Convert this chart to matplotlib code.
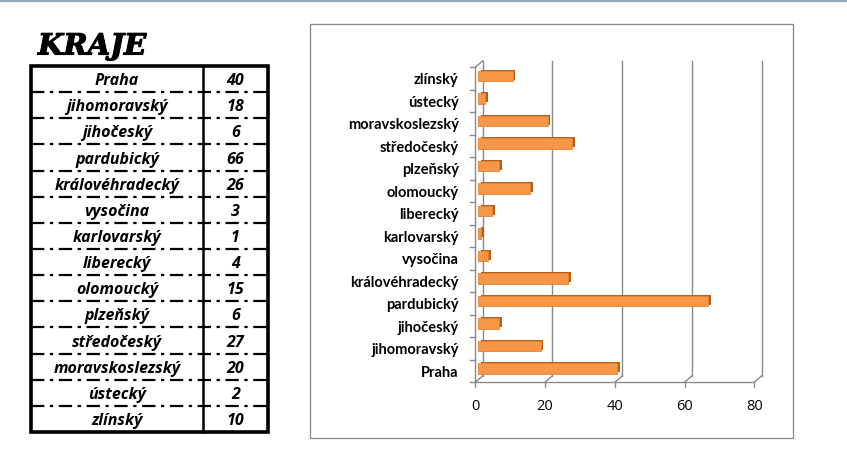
import matplotlib
matplotlib.use("Agg")
import matplotlib.pyplot as plt
import matplotlib.transforms as mtransforms
import matplotlib.patheffects as pe

# ---- data ----
categories = ["Praha", "jihomoravský", "jihočeský", "pardubický", "královéhradecký",
              "vysočina", "karlovarský", "liberecký", "olomoucký", "plzeňský",
              "středočeský", "moravskoslezský", "ústecký", "zlínský"]
values = [40, 18, 6, 66, 26, 3, 1, 4, 15, 6, 27, 20, 2, 10]
x_ticks = [0, 20, 40, 60, 80]
title_text = "KRAJE"

W, H = 847, 451
DPI = 100
fig = plt.figure(figsize=(W / DPI, H / DPI), dpi=DPI)
fig.patch.set_facecolor("white")

# overlay axes in pixel coordinates for table, frames
ov = fig.add_axes([0, 0, 1, 1])
ov.set_xlim(0, W)
ov.set_ylim(H, 0)
ov.axis("off")

# top border line
ov.plot([0, W], [0.8, 0.8], color="#9aaabf", lw=1.6)

# ---- table ----
tx0, tx1, tdiv = 31, 268, 203
ty0, ty1 = 66, 432
n = len(categories)
rh = (ty1 - ty0) / n
for i in range(1, n):
    y = ty0 + i * rh
    ov.plot([tx0, tx1], [y, y], color="black", lw=1.6, ls=(0, (6, 2.5, 1.5, 2.5)))
ov.plot([tdiv, tdiv], [ty0, ty1], color="black", lw=1.8)
ov.add_patch(plt.Rectangle((tx0, ty0), tx1 - tx0, ty1 - ty0, fill=False,
                           ec="black", lw=2.6))
for i, (c, v) in enumerate(zip(categories, values)):
    yc = ty0 + (i + 0.58) * rh
    ov.text((tx0 + tdiv) / 2, yc, c, ha="center", va="center", fontsize=11.5,
            fontweight="bold", style="italic", family="Open Sans")
    ov.text((tdiv + tx1) / 2, yc, str(v), ha="center", va="center", fontsize=11.5,
            fontweight="bold", style="italic", family="Open Sans")

# title
ov.text(38, 46, title_text, ha="left", va="center", fontsize=21,
        fontweight="bold", style="italic", family="DejaVu Serif",
        path_effects=[pe.withStroke(linewidth=0.8, foreground="black")])

# chart frame
ov.add_patch(plt.Rectangle((310, 24), 793 - 310, 438 - 24, fill=False,
                           ec="#8c8c8c", lw=1.0))

# ---- chart ----
x0px, x80px = 475.3, 754.3
ybot, ytop = 382.3, 382.3 - 14 * 22.5
ax = fig.add_axes([x0px / W, (H - ybot) / H, (x80px - x0px) / W, (ybot - ytop) / H])
ax.set_xlim(0, 80)
ax.set_ylim(-0.5, n - 0.5)
ax.patch.set_alpha(0)
for s in ax.spines.values():
    s.set_visible(False)

dx, dy = 7.4, 6.5  # depth offset in px
back = ax.transData + mtransforms.ScaledTranslation(dx / DPI, dy / DPI, fig.dpi_scale_trans)
mid = ax.transData + mtransforms.ScaledTranslation(2.5 / DPI, 2.5 / DPI, fig.dpi_scale_trans)

grid_c = "#8a8a8a"
top_y = n - 0.5
# back-wall gridlines + floor diagonals
for xv in x_ticks:
    ax.plot([xv, xv], [-0.5, top_y], color=grid_c, lw=1.0, transform=back, clip_on=False)
    p0 = ax.transData.transform((xv, -0.5))
    p1 = back.transform((xv, -0.5))
    ov.plot([p0[0], p1[0]], [H - p0[1], H - p1[1]], color=grid_c, lw=1.0)
# left wall front vertical + top diagonal
ax.plot([0, 0], [-0.5, top_y], color=grid_c, lw=1.0, clip_on=False)
p0 = ax.transData.transform((0, top_y))
p1 = back.transform((0, top_y))
ov.plot([p0[0], p1[0]], [H - p0[1], H - p1[1]], color=grid_c, lw=1.0)
# front floor line
ax.plot([0, 80], [-0.5, -0.5], color=grid_c, lw=1.0, clip_on=False)
for xv in x_ticks:
    p0 = ax.transData.transform((xv, -0.5))
    ov.plot([p0[0], p0[0]], [H - p0[1], H - p0[1] + 5], color=grid_c, lw=1.0)
# left tick marks at category boundaries
for i in range(n + 1):
    p0 = ax.transData.transform((0, i - 0.5))
    ov.plot([p0[0] - 5, p0[0]], [H - p0[1], H - p0[1]], color=grid_c, lw=1.0)

# bars with 3D-ish side
ypos = list(range(n))
ax.barh(ypos, values, height=0.45, color="#f79646", edgecolor="#e58436", lw=0.6,
        transform=mid, clip_on=False, zorder=3,
        path_effects=[pe.SimplePatchShadow(offset=(2.0, 0.9), shadow_rgbFace="#b3601f", alpha=1.0),
                      pe.Normal()])

ax.set_yticks(ypos)
ax.set_yticklabels(categories, fontsize=10.5, fontweight="bold", family="Lato")
ax.tick_params(axis="y", length=0, pad=12)
ax.set_xticks(x_ticks)
ax.set_xticklabels([str(v) for v in x_ticks], fontsize=10.5, family="Open Sans")
ax.tick_params(axis="x", length=0, pad=12)

fig.savefig("out.png", dpi=DPI, facecolor="white")
